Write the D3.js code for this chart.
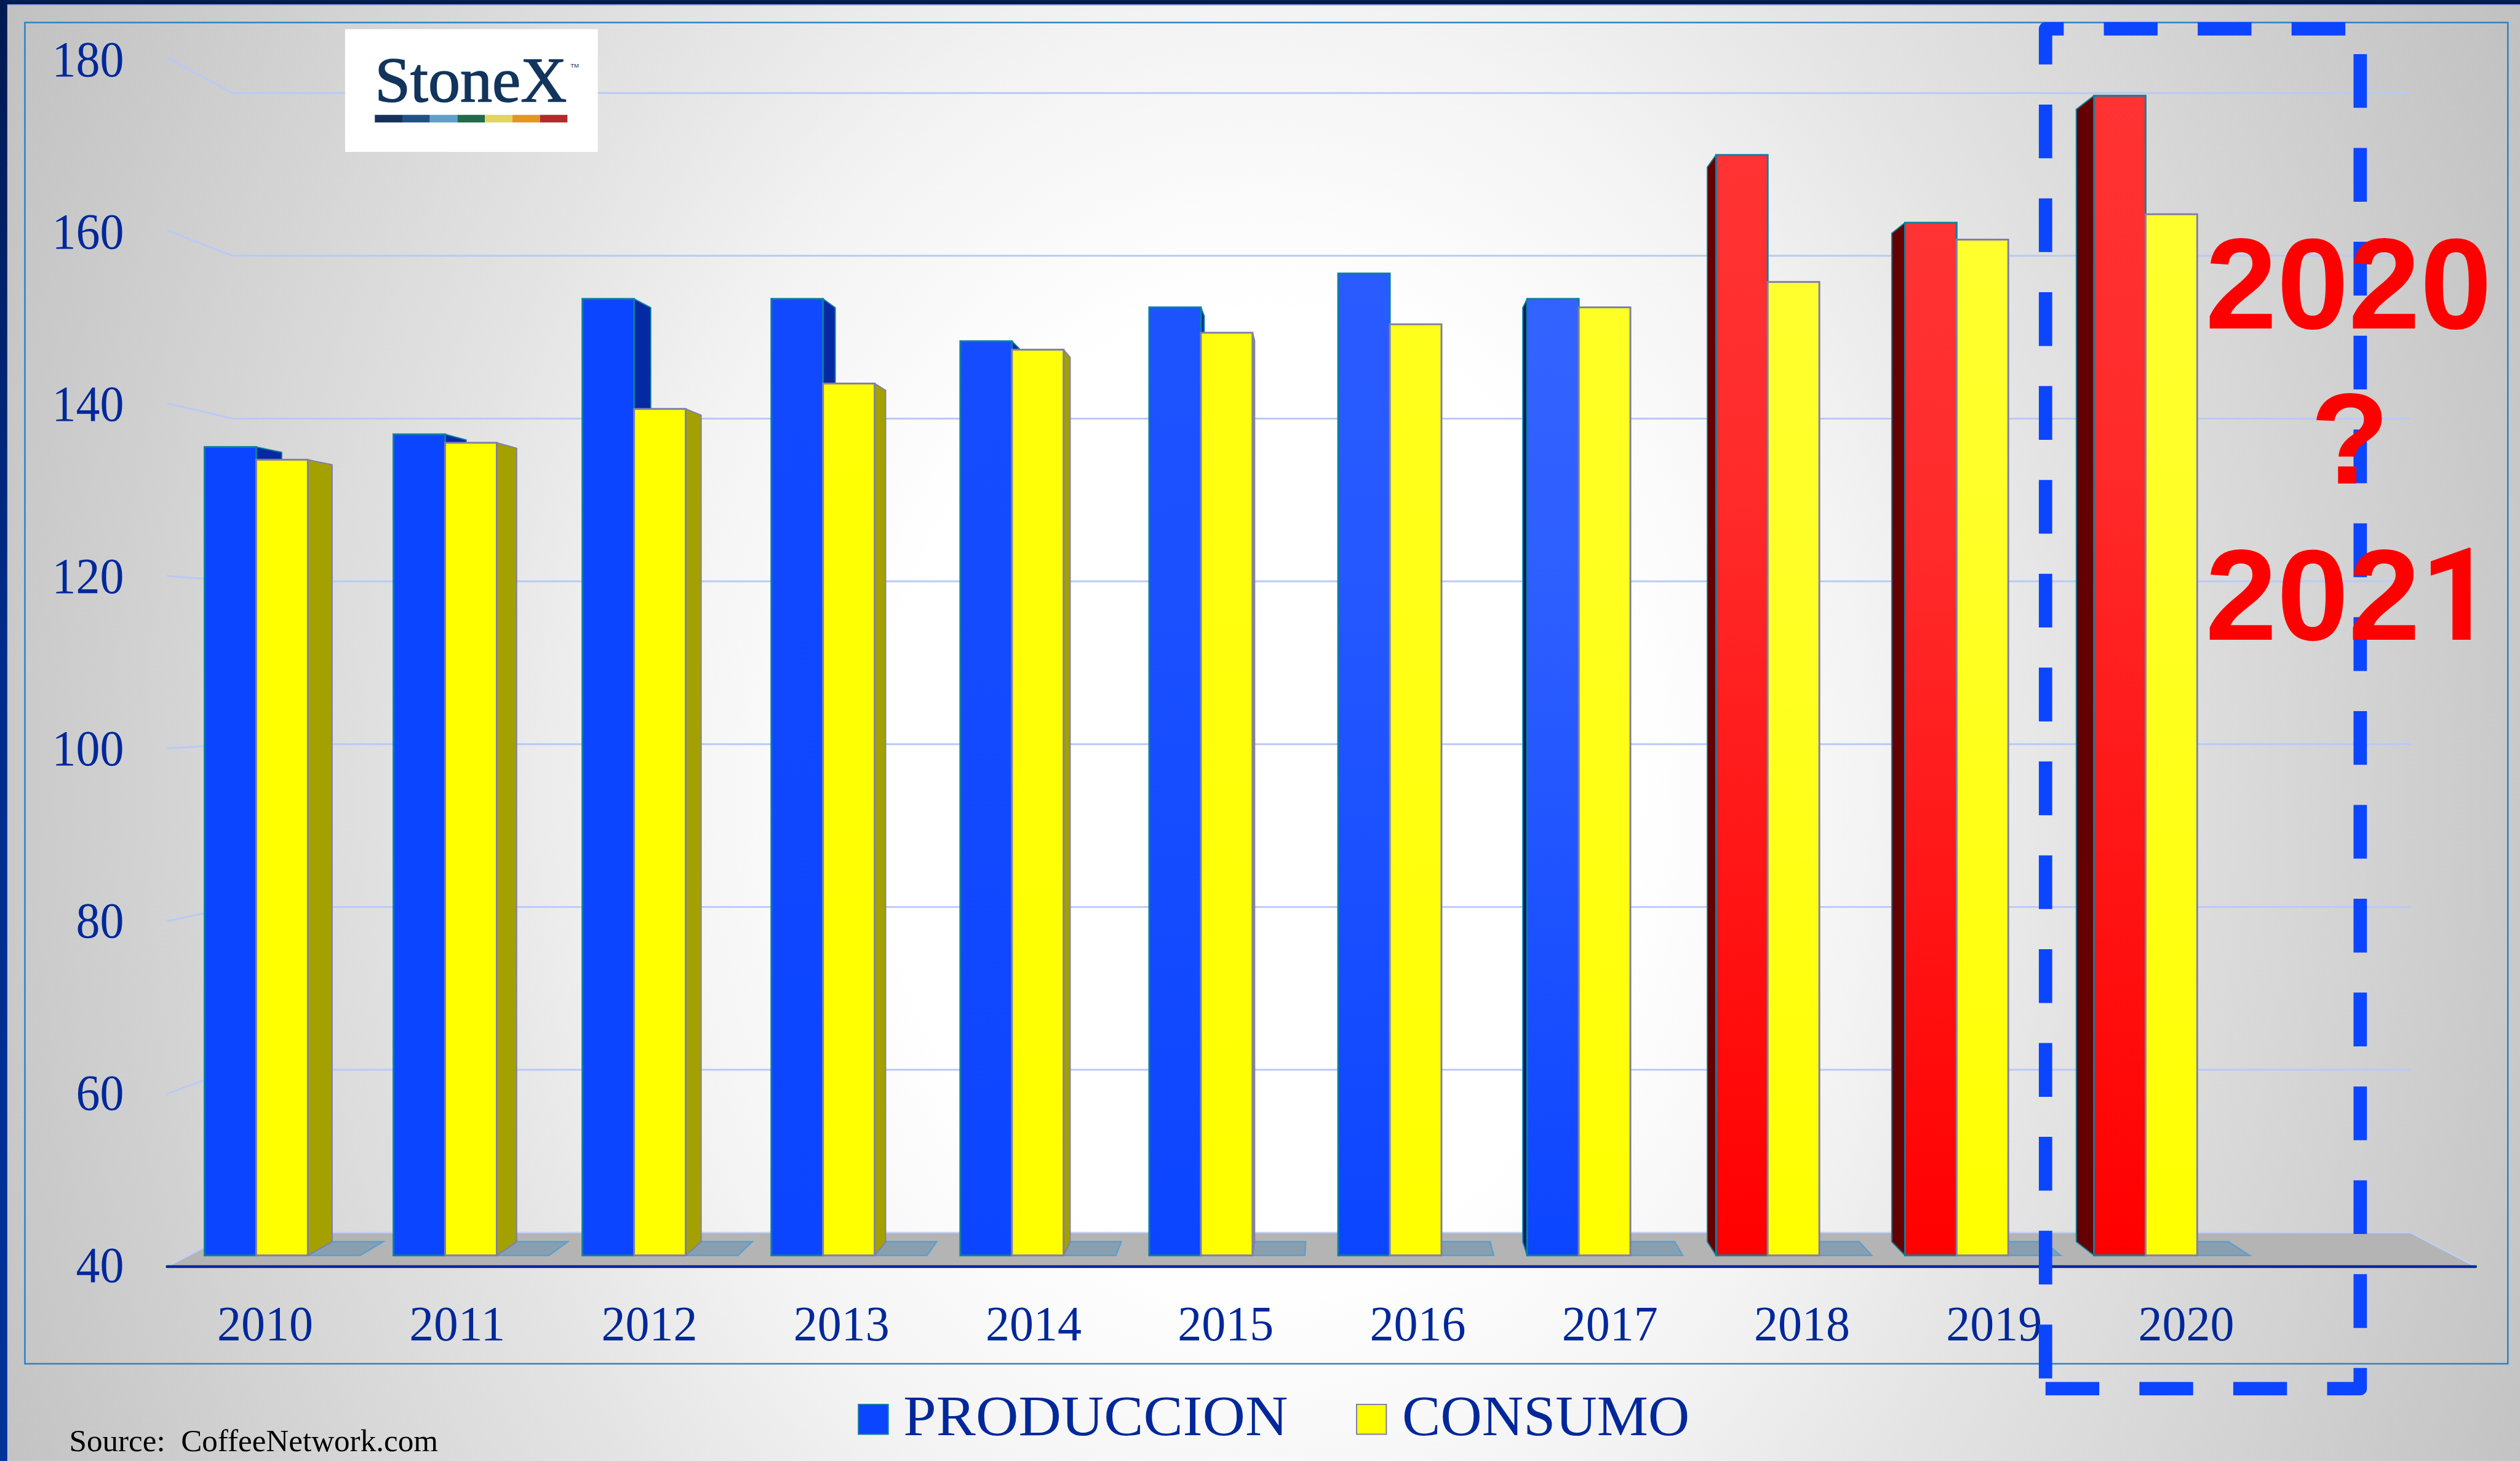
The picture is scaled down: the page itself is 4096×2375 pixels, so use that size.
<!DOCTYPE html>
<html>
<head>
<meta charset="utf-8">
<script src="https://cdnjs.cloudflare.com/ajax/libs/d3/7.8.5/d3.min.js"></script>
<style>
html,body{margin:0;padding:0;background:#fff;overflow:hidden}
svg{display:block}
</style>
</head>
<body>
<svg id="chart" width="4096" height="2375" viewBox="0 0 4148 2405" xmlns="http://www.w3.org/2000/svg"></svg>
<script>
const years = ["2010","2011","2012","2013","2014","2015","2016","2017","2018","2019","2020"];
const produccion = [135.5,137,153,153,148,152,156,153,170,162,177];
const consumo = [134,136,140,143,147,149,150,152,155,160,163];
const yTicks = [40,60,80,100,120,140,160,180];
const seriesNames = ["PRODUCCION","CONSUMO"];
const redYears = ["2018","2019","2020"];
const topTint = [0,0,0,0.02,0.04,0.07,0.12,0.16,0.2,0.2,0.2];
const logoColors = ["#16325c","#1f5288","#5fa0c8","#1f6b4a","#e0d560","#e69520","#b52a2a"];
const annotationLines = ["2020","?","2021"];

const SERIF = "'Liberation Serif','Times New Roman',serif";
const SANS = "'Liberation Sans',Arial,sans-serif";
const NAVY = "#00289a";

const svg = d3.select("#chart");
const defs = svg.append("defs");

// --- scales ---
const x = d3.scaleBand().domain(years).range([336.7, 336.7+3280]).paddingInner(0.4534).paddingOuter(0);
const xSub = d3.scaleBand().domain(seriesNames).range([0, x.bandwidth()]);
const yBar = d3.scaleLinear().domain([40,180]).range([2066.6, 2066.6-13.935*140]);
const yBack = d3.scaleLinear().domain([40,180]).range([2029,153]);
const yFront = d3.scaleLinear().domain([40,180]).range([2085,95]);
const yLabel = d3.scaleLinear().domain([40,180]).range([2110,125]);
const xLabel = d3.scalePoint().domain(years).range([436,3598]);

// perspective projection for the depth of the bars
const VP = [2210,1110], K = 0.9765;
const proj = (px,py)=>[VP[0]+K*(px-VP[0]), VP[1]+K*(py-VP[1])];
const poly = pts=>pts.map(p=>p.join(",")).join(" ");

// --- background ---
const bg = defs.append("radialGradient").attr("id","bg").attr("gradientUnits","userSpaceOnUse")
  .attr("cx",0).attr("cy",0).attr("r",2385)
  .attr("gradientTransform","translate(2074,1300) scale(1,1.273)");
[[0,"#ffffff"],[0.26,"#ffffff"],[0.426,"#f3f3f3"],[0.565,"#e4e4e4"],[0.87,"#c9c9c9"],[1,"#bebebe"]]
  .forEach(s=>bg.append("stop").attr("offset",s[0]).attr("stop-color",s[1]));
svg.append("rect").attr("width",4148).attr("height",2405).attr("fill","url(#bg)");

const lg = defs.append("linearGradient").attr("id","side").attr("x1",0).attr("y1",0).attr("x2",0).attr("y2",1);
lg.append("stop").attr("offset",0).attr("stop-color","#001a50");
lg.append("stop").attr("offset",0.45).attr("stop-color","#002c8c");
lg.append("stop").attr("offset",1).attr("stop-color","#003399");
svg.append("rect").attr("x",0).attr("y",0).attr("width",12).attr("height",2405).attr("fill","url(#side)");
svg.append("rect").attr("x",0).attr("y",0).attr("width",4148).attr("height",7).attr("fill","#001a50");
svg.append("rect").attr("x",12).attr("y",7).attr("width",4136).attr("height",2).attr("fill","#93a8ea");

// plot frame
svg.append("rect").attr("x",41).attr("y",37).attr("width",4087).attr("height",2208)
  .attr("fill","none").attr("stroke","#2a80c6").attr("stroke-width",2.5);

// --- grid ---
const gridG = svg.append("g").attr("fill","none").attr("stroke","#b9c9f8").attr("stroke-width",3);
gridG.selectAll("polyline").data(yTicks.filter(v=>v>40)).join("polyline")
  .attr("points",v=>poly([[275,yFront(v)],[383,yBack(v)],[3968,yBack(v)]]));

// floor
svg.append("polygon").attr("points",poly([[275,yFront(40)],[383,yBack(40)],[3968,yBack(40)],[4075,yFront(40)]]))
  .attr("fill","#b4b4b4");
svg.append("polyline").attr("points",poly([[275,yFront(40)],[383,yBack(40)],[3968,yBack(40)],[4075,yFront(40)]]))
  .attr("fill","none").attr("stroke","#c0d0f8").attr("stroke-width",2.5);

// axis base line
svg.append("line").attr("x1",275).attr("x2",4075).attr("y1",yFront(40)).attr("y2",yFront(40))
  .attr("stroke",NAVY).attr("stroke-width",4.5).attr("stroke-linecap","round");

// --- bars ---
const base = yBar(40);
const rows = years.map((yr,i)=>({yr,i,p:produccion[i],c:consumo[i]}));

function grad(id, c, t){
  const g = defs.append("linearGradient").attr("id",id).attr("x1",0).attr("y1",0).attr("x2",0).attr("y2",1);
  g.append("stop").attr("offset",0).attr("stop-color",d3.interpolateRgb(c,"#ffffff")(t));
  g.append("stop").attr("offset",0.3).attr("stop-color",d3.interpolateRgb(c,"#ffffff")(t*0.85));
  g.append("stop").attr("offset",1).attr("stop-color",c);
}
rows.forEach(r=>{
  grad("gp"+r.yr, redYears.includes(r.yr)?"#ff0000":"#0c45ff", topTint[r.i]);
  grad("gc"+r.yr, "#ffff00", topTint[r.i]*0.9);
});

const yearG = svg.selectAll("g.year").data(rows).join("g").attr("class","year");

// floor shadows
yearG.append("polygon")
  .attr("points",d=>{
    const xr = x(d.yr)+x.bandwidth(), w = xSub.bandwidth()+1;
    return poly([[xr,base],[xr+w,base],proj(xr+w,base),proj(xr,base)]);
  })
  .attr("fill","#8a9fae").attr("stroke","#5b9fd0").attr("stroke-width",2.5);

function sideFace(g, edgeX, val, fill, stroke){
  const top = yBar(val);
  g.append("polygon")
    .attr("points",poly([[edgeX,top],proj(edgeX,top),proj(edgeX,base),[edgeX,base]]))
    .attr("fill",fill).attr("stroke",stroke).attr("stroke-width",2).attr("stroke-linejoin","round");
}
yearG.each(function(d){
  const g = d3.select(this);
  const red = redYears.includes(d.yr);
  const xl = x(d.yr), xm = xl+xSub.bandwidth(), xr = xl+x.bandwidth();
  const sideP = red ? "#640000" : "#0529a3";
  if (xl > VP[0]) sideFace(g, xl, d.p, red?"#640000":"#041f66", "#0d7f9f");
  if (xm < VP[0]) sideFace(g, xm, d.p, sideP, "#0d7f9f");
  if (xr < VP[0]) sideFace(g, xr, d.c, "#a3a000", "#7f7fb0");
});
// front faces
yearG.append("rect").attr("class","prod")
  .attr("x",d=>x(d.yr)+xSub(seriesNames[0]))
  .attr("y",d=>yBar(d.p))
  .attr("width",xSub.bandwidth())
  .attr("height",d=>base-yBar(d.p))
  .attr("fill",d=>`url(#gp${d.yr})`)
  .attr("stroke","#0d7f9f").attr("stroke-width",3);
yearG.append("rect").attr("class","cons")
  .attr("x",d=>x(d.yr)+xSub(seriesNames[1]))
  .attr("y",d=>yBar(d.c))
  .attr("width",xSub.bandwidth())
  .attr("height",d=>base-yBar(d.c))
  .attr("fill",d=>`url(#gc${d.yr})`)
  .attr("stroke","#7f7fa8").attr("stroke-width",3);

// --- axes (labels only) ---
const xAxis = svg.append("g").attr("transform","translate(0,2206.5)")
  .call(d3.axisBottom(xLabel).tickSize(0).tickPadding(0));
xAxis.select(".domain").remove();
xAxis.selectAll("text").attr("y",0).attr("dy",0)
  .attr("font-family",SERIF).attr("font-size",81).attr("fill",NAVY)
  .attr("textLength",158).attr("lengthAdjust","spacingAndGlyphs");

const yAxis = svg.append("g").attr("transform","translate(204,0)")
  .call(d3.axisLeft(yLabel).tickValues(yTicks).tickSize(0).tickPadding(0));
yAxis.select(".domain").remove();
yAxis.selectAll("text").attr("x",0).attr("dy",0)
  .attr("font-family",SERIF).attr("font-size",84).attr("fill",NAVY)
  .attr("text-anchor","end")
  .attr("textLength",d=>String(d).length*39.5)
  .attr("lengthAdjust","spacingAndGlyphs");

// --- logo ---
const logo = svg.append("g");
logo.append("rect").attr("x",568).attr("y",48).attr("width",416).attr("height",202).attr("fill","#ffffff");
logo.append("text").text("StoneX").attr("x",617).attr("y",167)
  .attr("font-family",SERIF).attr("font-size",104).attr("fill","#12355b")
  .attr("stroke","#12355b").attr("stroke-width",1.6)
  .attr("textLength",316).attr("lengthAdjust","spacingAndGlyphs");
logo.append("text").text("TM").attr("x",939).attr("y",111.5)
  .attr("font-family",SANS).attr("font-size",10).attr("fill","#12355b")
  .attr("textLength",14).attr("lengthAdjust","spacingAndGlyphs");
const logoX = d3.scaleBand().domain(d3.range(logoColors.length)).range([617,934]);
logo.selectAll("rect.c").data(logoColors).join("rect").attr("class","c")
  .attr("x",(d,i)=>logoX(i)).attr("y",189).attr("width",logoX.bandwidth()).attr("height",12.5).attr("fill",d=>d);

// --- legend ---
const legendItems = [
  {name:seriesNames[0],sx:1412,tx:1487,tl:633,fill:"#0c45ff",stroke:"#0d7f9f"},
  {name:seriesNames[1],sx:2232,tx:2308,tl:473,fill:"#ffff00",stroke:"#7f7fa8"}
];
const lgd = svg.selectAll("g.lgd").data(legendItems).join("g").attr("class","lgd");
lgd.append("rect").attr("x",d=>d.sx+1).attr("y",2312).attr("width",49).attr("height",49)
  .attr("fill",d=>d.fill).attr("stroke",d=>d.stroke).attr("stroke-width",2);
lgd.append("text").text(d=>d.name).attr("x",d=>d.tx).attr("y",2362.5)
  .attr("font-family",SERIF).attr("font-size",95).attr("fill",NAVY)
  .attr("textLength",d=>d.tl).attr("lengthAdjust","spacingAndGlyphs");

// source
svg.append("text").text("Source:\u00a0 CoffeeNetwork.com").attr("x",114).attr("y",2389)
  .attr("font-family",SERIF).attr("font-size",52).attr("fill","#000000")
  .attr("textLength",607).attr("lengthAdjust","spacingAndGlyphs");

// --- dashed highlight ---
svg.append("path")
  .attr("d","M3367,2286 H3885 V47.5 H3367 V2286")
  .attr("fill","none").attr("stroke","#0c45ff").attr("stroke-width",22)
  .attr("stroke-linejoin","round")
  .attr("stroke-dasharray","88.5 66");

// --- annotation ---
const annG = svg.append("g").attr("font-family",SANS).attr("font-weight","bold").attr("font-size",212).attr("fill","#ff0000");
annG.append("text").text(annotationLines[0]).attr("x",3630).attr("y",541);
annG.append("text").text(annotationLines[1]).attr("x",3868).attr("y",796).attr("text-anchor","middle");
const t3 = annG.append("text").attr("x",3630).attr("y",1053);
t3.append("tspan").text(annotationLines[2].slice(0,3));
t3.append("tspan").attr("font-family","Roboto").text(annotationLines[2].slice(3));
</script>
</body>
</html>
